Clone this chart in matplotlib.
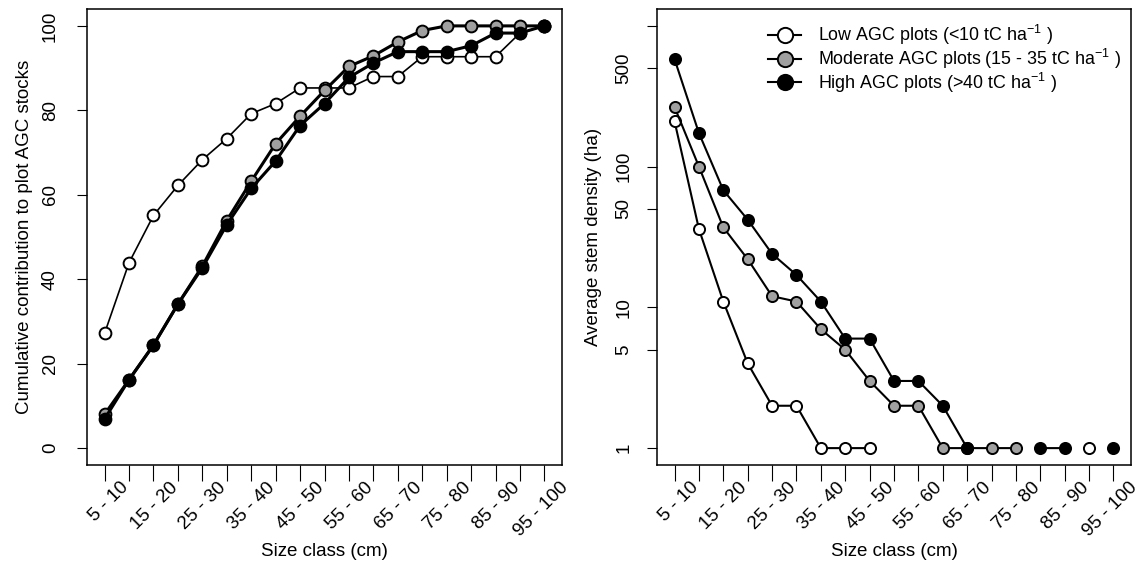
import numpy as np
import matplotlib
matplotlib.use("Agg")
import matplotlib.pyplot as plt
from matplotlib.lines import Line2D
import matplotlib.transforms as mtransforms

plt.rcParams['font.family'] = ['Liberation Sans', 'DejaVu Sans']
plt.rcParams['mathtext.default'] = 'regular'

size_classes = ["5 - 10", "10 - 15", "15 - 20", "20 - 25", "25 - 30", "30 - 35",
                "35 - 40", "40 - 45", "45 - 50", "50 - 55", "55 - 60", "60 - 65",
                "65 - 70", "70 - 75", "75 - 80", "80 - 85", "85 - 90", "90 - 95",
                "95 - 100"]

# Left panel: cumulative contribution (%)
cum_low = [27.2, 43.9, 55.1, 62.2, 68.3, 73.3, 79.2, 81.6, 85.3, 85.3, 85.3,
           88.0, 88.0, 92.7, 92.7, 92.7, 92.7, 98.3, 100.0]
cum_mod = [8.0, 16.2, 24.4, 34.1, 43.1, 53.9, 63.2, 72.1, 78.6, 84.7, 90.4,
           92.9, 96.2, 98.9, 100.0, 100.0, 100.0, 100.0, 100.0]
cum_high = [6.9, 16.2, 24.4, 34.1, 42.7, 52.9, 61.5, 68.0, 76.4, 81.6, 87.8,
            91.2, 93.9, 93.9, 93.9, 95.3, 98.3, 98.3, 100.0]

# Right panel: average stem density (per ha)
nan = np.nan
dens_low = [210, 36, 11, 4, 2, 2, 1, 1, 1, nan, nan, nan, nan, nan, nan, nan,
            nan, 1, nan]
dens_mod = [265, 100, 37, 22, 12, 11, 7, 5, 3, 2, 2, 1, 1, 1, 1, nan, nan,
            nan, nan]
dens_high = [580, 173, 68, 42, 24, 17, 11, 6, 6, 3, 3, 2, 1, nan, nan, 1, 1,
             nan, 1]

legend_labels = ["Low AGC plots (<10 tC ha$^{-1}$ )",
                 "Moderate AGC plots (15 - 35 tC ha$^{-1}$ )",
                 "High AGC plots (>40 tC ha$^{-1}$ )"]
fills = ["white", "#A0A0A0", "black"]

left_yticks = [0, 20, 40, 60, 80, 100]
right_yticks = [1, 5, 10, 50, 100, 500, 1000]
right_yticklabels = ["1", "5", "10", "50", "100", "500", ""]

W, H = 1148, 563
fig = plt.figure(figsize=(W / 100, H / 100), dpi=100)
axL = fig.add_axes([87 / W, (H - 465) / H, 475 / W, 456 / H])
axR = fig.add_axes([657 / W, (H - 465) / H, 474 / W, 456 / H])

x = np.arange(1, len(size_classes) + 1)
fs = 13.5

def style_axes(ax, ypad):
    for s in ax.spines.values():
        s.set_linewidth(1.1)
    ax.set_xlim(0.28, 19.72)
    ax.set_xticks(x)
    ax.set_xticklabels([])
    ax.tick_params(axis='x', length=11.5, width=0.8, direction='out')
    ax.tick_params(axis='y', length=7.2, width=0.8, direction='out',
                   labelsize=fs, pad=ypad)
    for lab in ax.get_yticklabels():
        lab.set_rotation(90)
        lab.set_va('center')
    # rotated size-class labels (every other class)
    trans = mtransforms.blended_transform_factory(ax.transData, ax.transAxes)
    off = mtransforms.ScaledTranslation(-3 / 100, -20 / 100, fig.dpi_scale_trans)
    for i in range(0, len(size_classes), 2):
        ax.text(x[i] + 1, 0, size_classes[i], transform=trans + off,
                rotation=45, ha='right', va='center', rotation_mode='anchor',
                fontsize=fs, clip_on=False)
    ax.text(0.5, -0.189, "Size class (cm)", transform=ax.transAxes,
            ha='center', va='center', fontsize=fs)

# Left panel
axL.plot(x, cum_low, '-o', color='black', lw=1.2, ms=8.5, mfc=fills[0],
         mec='black', mew=1.4, zorder=3)
axL.plot(x, cum_mod, '-o', color='black', lw=2.2, ms=8.5, mfc=fills[1],
         mec='black', mew=1.4, zorder=4)
axL.plot(x, cum_high, '-o', color='black', lw=2.2, ms=8.5, mfc=fills[2],
         mec='black', mew=1.4, zorder=5)
axL.set_ylim(-4, 104)
axL.set_yticks(left_yticks)
axL.set_yticklabels([str(v) for v in left_yticks])
axL.set_ylabel("Cumulative contribution to plot AGC stocks", fontsize=fs,
               va='center')
axL.yaxis.set_label_coords((25 - 87) / 475, 0.5)
style_axes(axL, 13)

# Right panel
axR.set_yscale('log')
for vals, fc, z in zip([dens_low, dens_mod, dens_high], fills, [3, 4, 5]):
    axR.plot(x, vals, '-o', color='black', lw=1.5, ms=8, mfc=fc,
             mec='black', mew=1.4, zorder=z)
lo, hi = np.log10(1), np.log10(1000)
pad = 0.04 * (hi - lo)
axR.set_ylim(10 ** (lo - pad), 10 ** (hi + pad))
axR.set_yticks(right_yticks)
axR.set_yticklabels(right_yticklabels)
axR.yaxis.set_minor_locator(matplotlib.ticker.NullLocator())
axR.set_ylabel("Average stem density (ha)", fontsize=fs, va='center')
axR.yaxis.set_label_coords((593 - 657) / 474, 0.5)
style_axes(axR, 10.5)

handles = [Line2D([], [], color='black', lw=1.5, marker='o', ms=11,
                  mfc=fc, mec='black', mew=1.4) for fc in fills]
axR.legend(handles, legend_labels, loc='upper left',
           bbox_to_anchor=((768 - 657) / 474, (465 - 23) / 456),
           frameon=False, fontsize=12.9, handlelength=1.85, handletextpad=0.95,
           labelspacing=-0.02, borderaxespad=0, borderpad=0)

fig.savefig("out.png", dpi=100)
